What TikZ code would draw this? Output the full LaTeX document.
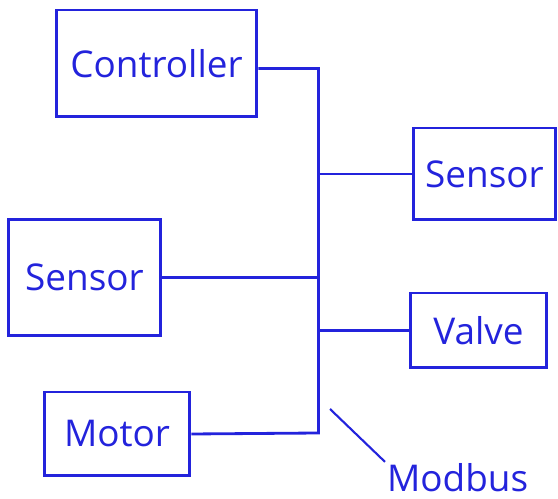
\documentclass[tikz,border=0pt]{standalone}
\usepackage{fontspec}
\setmainfont{Open Sans}
\definecolor{busblue}{RGB}{35,35,220}
\begin{document}
\begin{tikzpicture}[x=0.02cm, y=-0.02cm,
        unit/.style={draw=busblue, line width=1.7pt, text=busblue, font=\fontsize{21}{24}\selectfont, inner sep=0pt},
        wire/.style={draw=busblue, line width=1.6pt}]
        \useasboundingbox (0,0) rectangle (558,499);

        % Controller
        \node [unit, minimum width=4.02cm, minimum height=2.14cm] (ctrl) at (156.5, 63.5) {Controller};

        % Sensors, valve and motor
        \node [unit, minimum width=2.86cm, minimum height=1.84cm] (sensR) at (484.5, 174) {Sensor};
        \node [unit, minimum width=2.74cm, minimum height=1.50cm] (valve) at (478.5, 330.5) {Valve};
        \node [unit, minimum width=3.06cm, minimum height=2.34cm] (sensL) at (84.5, 277.5) {Sensor};
        \node [unit, minimum width=2.92cm, minimum height=1.68cm] (motor) at (117, 434) {Motor};

        % Bus
        \coordinate (busend) at (318.5, 433);
        \draw [wire] ([yshift=-0.1cm]ctrl.east) -| (busend) -- (motor.east);
        \draw [wire] (sensR.west) -- (sensR.west -| busend);
        \draw [wire] (valve.west) -- (valve.west -| busend);
        \draw [wire] (sensL.east) -- (sensL.east -| busend);

        % Modbus label
        \node [text=busblue, font=\fontsize{21}{24}\selectfont, inner sep=1pt, anchor=base west] (modbus) at (385, 492) {Modbus};
        \coordinate (tick) at (330, 409);
        \draw [wire, line width=1.2pt] (tick) -- (modbus.north west);
    \end{tikzpicture}
\end{document}
